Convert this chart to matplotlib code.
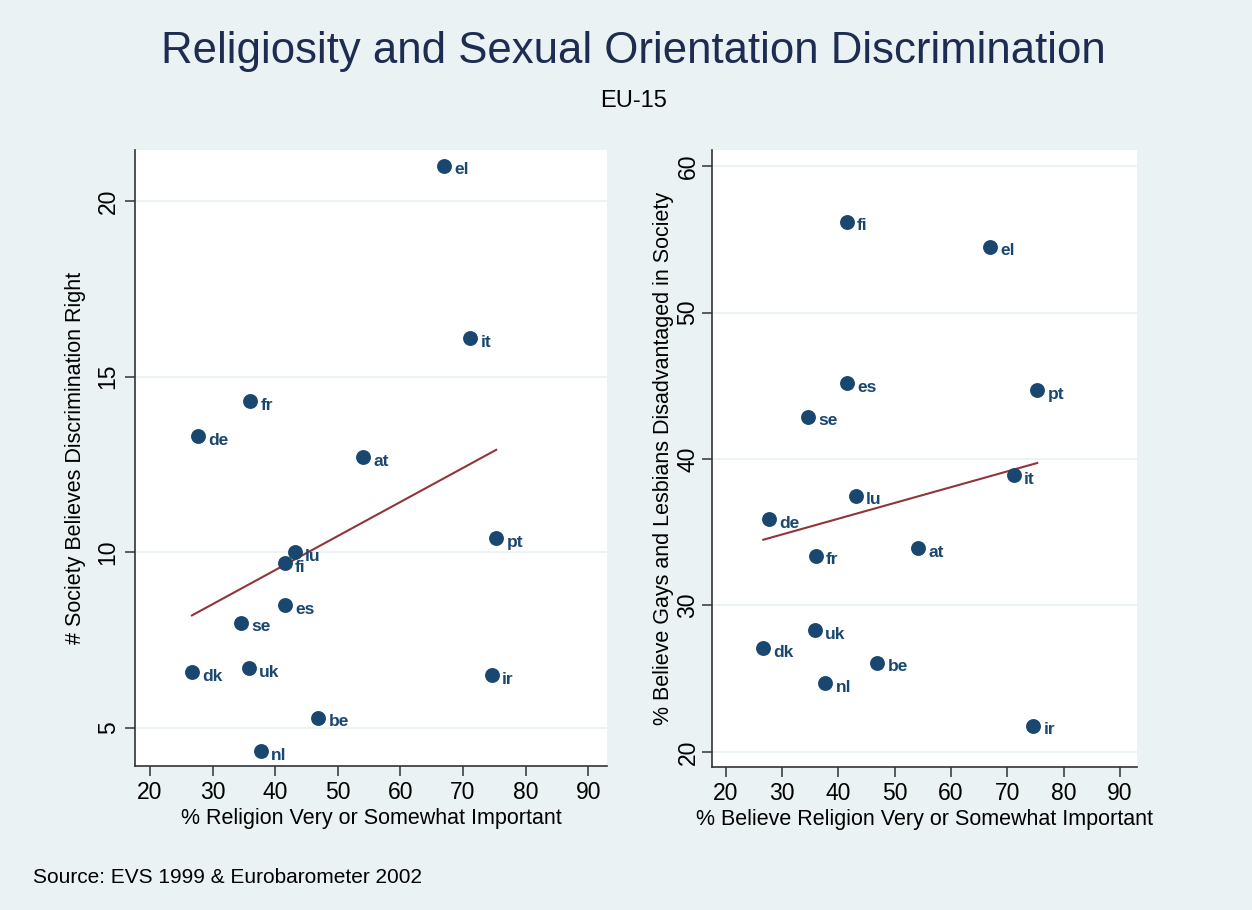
import numpy as np
import matplotlib.pyplot as plt

plt.rcParams['font.family'] = ['Liberation Sans', 'DejaVu Sans']

# EU-15 country codes
countries = ['el', 'it', 'fr', 'de', 'at', 'pt', 'lu', 'fi', 'es', 'se',
             'dk', 'uk', 'ir', 'be', 'nl']
# % religion very or somewhat important (EVS 1999)
religion = [67.0, 71.1, 36.0, 27.7, 54.1, 75.3, 43.1, 41.5, 41.6, 34.6,
            26.7, 35.8, 74.6, 46.9, 37.7]
# % saying society believes discrimination is right
discrim_right = [21.0, 16.1, 14.3, 13.3, 12.7, 10.4, 10.0, 9.7, 8.5, 8.0,
                 6.6, 6.7, 6.5, 5.3, 4.35]
# % believing gays and lesbians are disadvantaged in society
disadvantaged = [54.5, 38.9, 33.4, 35.9, 33.9, 44.7, 37.5, 56.2, 45.2, 42.9,
                 27.1, 28.3, 21.8, 26.1, 24.7]

bg = '#eaf2f3'
navy = '#1a476f'
maroon = '#90353b'

fig = plt.figure(figsize=(12.52, 9.10), dpi=100, facecolor=bg)


def panel(rect, y, xlabel, ylabel, ylim, yticks, ypad, tpad):
    ax = fig.add_axes(rect)
    ax.set_facecolor('white')
    ax.scatter(religion, y, s=115, color=navy, zorder=3, linewidths=0)
    for c, xv, yv in zip(countries, religion, y):
        ax.annotate(c, (xv, yv), xytext=(7.5, -3), textcoords='offset points',
                    va='center', ha='left', fontsize=12.5, fontweight='bold',
                    color=navy, zorder=4)
    # linear fit
    b, a = np.polyfit(religion, y, 1)
    xs = np.array([min(religion), max(religion)])
    ax.plot(xs, a + b * xs, color=maroon, lw=1.5, zorder=2)

    ax.set_xlim(17.6, 93.0)
    ax.set_ylim(*ylim)
    ax.set_xticks(range(20, 91, 10))
    ax.set_yticks(yticks)
    ax.grid(axis='y', color=bg, lw=1.3, zorder=0)
    ax.set_axisbelow(True)
    for s in ['top', 'right']:
        ax.spines[s].set_visible(False)
    for s in ['left', 'bottom']:
        ax.spines[s].set_color('#333333')
        ax.spines[s].set_linewidth(1.2)
    ax.tick_params(direction='out', length=7, width=1.1, color='#333333',
                   labelsize=16.5, pad=4)
    ax.tick_params(axis='y', pad=tpad)
    plt.setp(ax.get_yticklabels(), rotation=90, va='center')
    ax.set_xlabel(xlabel, fontsize=15.5, labelpad=3)
    ax.set_ylabel(ylabel, fontsize=15.5, labelpad=ypad)
    return ax


panel([0.1078, 0.1582, 0.3770, 0.6770], discrim_right,
      '% Religion Very or Somewhat Important',
      '# Society Believes Discrimination Right',
      (3.92, 21.45), [5, 10, 15, 20], 8, 4)
panel([0.5687, 0.1571, 0.3394, 0.6781], disadvantaged,
      '% Believe Religion Very or Somewhat Important',
      '% Believe Gays and Lesbians Disadvantaged in Society',
      (18.97, 61.1), [20, 30, 40, 50, 60], 2, 2)

fig.text(0.506, 0.931, 'Religiosity and Sexual Orientation Discrimination',
         ha='center', va='baseline', fontsize=31.5, color='#1e2c52')
fig.text(0.506, 0.882, 'EU-15', ha='center', va='baseline', fontsize=17,
         color='black')
fig.text(0.026, 0.030, 'Source: EVS 1999 & Eurobarometer 2002',
         ha='left', va='baseline', fontsize=15, color='black')

fig.savefig('out.png', dpi=100, facecolor=bg)
